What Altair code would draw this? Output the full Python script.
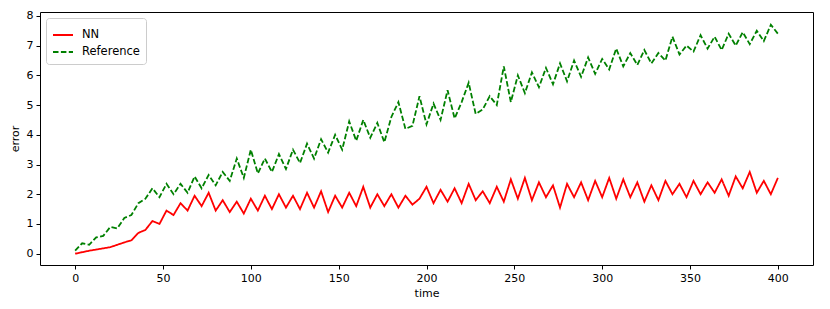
import altair as alt
import pandas as pd

t = list(range(0, 401, 4))

nn = [0.0, 0.05, 0.10, 0.14, 0.18, 0.22, 0.30, 0.38, 0.45, 0.70,
      0.80, 1.10, 1.00, 1.45, 1.30, 1.70, 1.45, 1.95, 1.60, 2.05,
      1.45, 1.80, 1.40, 1.75, 1.35, 1.85, 1.45, 1.95, 1.50, 2.00,
      1.55, 1.95, 1.50, 2.05, 1.55, 2.10, 1.40, 1.95, 1.55, 2.05,
      1.60, 2.25, 1.55, 2.00, 1.60, 2.00, 1.55, 1.95, 1.65, 1.85,
      2.25, 1.70, 2.15, 1.75, 2.20, 1.70, 2.35, 1.80, 2.10, 1.70,
      2.25, 1.75, 2.50, 1.85, 2.55, 1.80, 2.40, 1.90, 2.30, 1.55,
      2.35, 1.90, 2.40, 1.80, 2.45, 1.90, 2.55, 1.85, 2.50, 1.90,
      2.40, 1.75, 2.30, 1.80, 2.45, 2.00, 2.35, 1.90, 2.45, 2.00,
      2.40, 2.05, 2.50, 1.95, 2.60, 2.20, 2.75, 2.05, 2.45, 2.00,
      2.55]

ref = [0.10, 0.35, 0.30, 0.55, 0.60, 0.90, 0.85, 1.20, 1.30, 1.70,
       1.85, 2.20, 1.90, 2.35, 2.00, 2.35, 2.05, 2.60, 2.20, 2.65,
       2.30, 2.75, 2.45, 3.20, 2.55, 3.50, 2.70, 3.20, 2.75, 3.35,
       2.85, 3.50, 3.05, 3.70, 3.20, 3.85, 3.40, 4.00, 3.50, 4.45,
       3.80, 4.50, 3.90, 4.40, 3.75, 4.60, 5.10, 4.20, 4.30, 5.30,
       4.35, 5.05, 4.50, 5.50, 4.55, 5.10, 5.75, 4.70, 4.85, 5.30,
       5.00, 6.30, 5.10, 6.00, 5.40, 6.10, 5.60, 6.25, 5.70, 6.40,
       5.80, 6.50, 5.95, 6.60, 6.05, 6.55, 6.20, 6.90, 6.30, 6.75,
       6.35, 6.85, 6.40, 6.75, 6.50, 7.30, 6.70, 7.00, 6.80, 7.35,
       6.90, 7.30, 6.85, 7.40, 7.00, 7.45, 7.05, 7.50, 7.15, 7.70,
       7.40]

series_names = ["NN", "Reference"]
x_ticks = [0, 50, 100, 150, 200, 250, 300, 350, 400]
y_ticks = [0, 1, 2, 3, 4, 5, 6, 7, 8]

df = pd.concat([
    pd.DataFrame({"time": t, "error": nn, "series": series_names[0]}),
    pd.DataFrame({"time": t, "error": ref, "series": series_names[1]}),
])

font = "DejaVu Sans"

def make_legend():
    return alt.Legend(title=None, orient="none", legendX=6, legendY=6,
                      symbolType="stroke", symbolSize=400, symbolStrokeWidth=1.8,
                      labelFontSize=11.5, labelFont=font, labelColor="black",
                      labelOffset=8, fillColor="white", strokeColor="#cccccc",
                      cornerRadius=3, padding=6, rowPadding=0)

chart = alt.Chart(df).mark_line(strokeWidth=1.8).encode(
    x=alt.X("time:Q", scale=alt.Scale(domain=[-20, 420], nice=False, zero=False),
            axis=alt.Axis(values=x_ticks, title="time", format="d")),
    y=alt.Y("error:Q", scale=alt.Scale(domain=[-0.38, 8.13], nice=False, zero=False),
            axis=alt.Axis(values=y_ticks, title="error", format="d")),
    color=alt.Color("series:N",
                    scale=alt.Scale(domain=series_names, range=["#ff0000", "#008000"]),
                    legend=make_legend()),
    strokeDash=alt.StrokeDash("series:N",
                              scale=alt.Scale(domain=series_names, range=[[1, 0], [5.5, 2.4]]),
                              legend=make_legend()),
    order="time:Q",
).properties(
    width=773, height=253,
    autosize=alt.AutoSizeParams(type="none"),
    padding={"left": 32, "top": 4, "right": 9, "bottom": 36},
).configure_view(
    stroke="black", strokeWidth=1
).configure_axis(
    grid=False, domain=False, tickColor="black", tickSize=4, tickWidth=1,
    labelColor="black", labelFont=font, labelFontSize=11, labelPadding=3,
    titleColor="black", titleFont=font, titleFontSize=11, titleFontWeight="normal",
).configure_axisX(titlePadding=4).configure_axisY(titlePadding=6)

chart.save("out.html", embed_options={"renderer": "svg", "actions": False})
